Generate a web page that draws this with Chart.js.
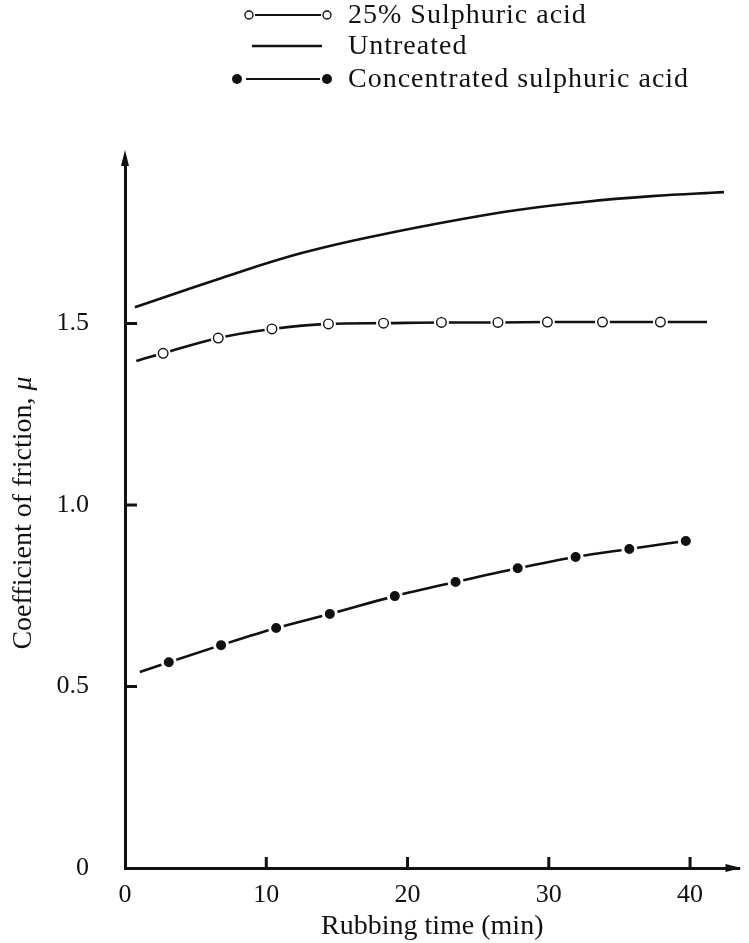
<!DOCTYPE html>
<html>
<head>
<meta charset="utf-8">
<script src="https://cdn.jsdelivr.net/npm/chart.js@4.4.1/dist/chart.umd.min.js"></script>
<style>
  html, body { margin: 0; background: #fff; }
  #wrap { width: 749px; height: 943px; }
</style>
</head>
<body>
<div id="wrap"><canvas id="frictionChart" width="749" height="943"></canvas></div>
<script>
// values (time in min, coefficient of friction)
const untreatedTime = [0.7, 6.8, 12.5, 18.3, 26.8, 32.5, 37.3, 42.4];
const untreatedMu = [1.545, 1.625, 1.694, 1.746, 1.807, 1.835, 1.851, 1.862];

const acid25Time = [0.8, 2.7, 6.6, 10.4, 14.4, 18.3, 22.4, 26.4, 29.9, 33.8, 37.9, 41.2];
const acid25Mu = [1.397, 1.418, 1.46, 1.485, 1.499, 1.501, 1.503, 1.503, 1.504, 1.504, 1.504, 1.504];

const concTime = [1.05, 3.1, 6.8, 10.7, 14.5, 19.1, 23.4, 27.8, 31.9, 35.7, 39.7];
const concMu = [0.54, 0.567, 0.614, 0.661, 0.70, 0.749, 0.788, 0.826, 0.857, 0.879, 0.901];

const xTicks = [0, 10, 20, 30, 40];
const yTicks = [0, 0.5, 1.0, 1.5];
const legendLabels = ['25% Sulphuric acid', 'Untreated', 'Concentrated sulphuric acid'];
const yTitle = 'Coefficient of friction, ';
const yTitleSymbol = 'μ';

const FONT = 'Liberation Serif';
const INK = '#111';

function toPoints(xs, ys) {
    return xs.map((x, i) => ({ x: x, y: ys[i] }));
}

// inward tick marks, arrow heads and the y title (with italic mu)
const axisDecor = {
    id: 'axisDecor',
    afterDraw(chart) {
        const ctx = chart.ctx;
        const xs = chart.scales.x, ys = chart.scales.y;
        ctx.save();
        ctx.strokeStyle = INK;
        ctx.fillStyle = INK;
        ctx.lineWidth = 3;
        yTicks.forEach(v => {
            if (v === 0) return;
            const py = ys.getPixelForValue(v);
            ctx.beginPath();
            ctx.moveTo(xs.left, py);
            ctx.lineTo(xs.left + 12, py);
            ctx.stroke();
        });
        xTicks.forEach(v => {
            if (v === 0) return;
            const px = xs.getPixelForValue(v);
            ctx.beginPath();
            ctx.moveTo(px, ys.bottom);
            ctx.lineTo(px, ys.bottom - 11);
            ctx.stroke();
        });
        // arrow up
        ctx.beginPath();
        ctx.moveTo(xs.left, ys.top - 8);
        ctx.lineTo(xs.left - 4, ys.top + 8);
        ctx.lineTo(xs.left + 4, ys.top + 8);
        ctx.closePath();
        ctx.fill();
        // arrow right
        ctx.beginPath();
        ctx.moveTo(xs.right + 2, ys.bottom);
        ctx.lineTo(xs.right - 14, ys.bottom - 4);
        ctx.lineTo(xs.right - 14, ys.bottom + 4);
        ctx.closePath();
        ctx.fill();

        // y title
        const regular = '28px "' + FONT + '"';
        const italic = 'italic 28px "' + FONT + '"';
        ctx.font = regular;
        const w1 = ctx.measureText(yTitle).width;
        ctx.font = italic;
        const w2 = ctx.measureText(yTitleSymbol).width;
        ctx.translate(24, (ys.top + ys.bottom) / 2);
        ctx.rotate(-Math.PI / 2);
        ctx.textBaseline = 'middle';
        ctx.textAlign = 'left';
        const start = -(w1 + w2) / 2;
        ctx.font = regular;
        ctx.fillText(yTitle, start, 0);
        ctx.font = italic;
        ctx.fillText(yTitleSymbol, start + w1, 0);
        ctx.restore();
    }
};

// legend drawn as in the figure: line sample with a marker at each end
const legendDecor = {
    id: 'legendDecor',
    afterDraw(chart) {
        const ctx = chart.ctx;
        const rows = [15, 46, 79];
        ctx.save();
        ctx.strokeStyle = INK;
        ctx.fillStyle = INK;
        ctx.font = '28px "' + FONT + '"';
        ctx.letterSpacing = '1px';
        ctx.textBaseline = 'middle';
        ctx.textAlign = 'left';

        // 25 %
        let y = rows[0];
        ctx.lineWidth = 2;
        ctx.beginPath(); ctx.moveTo(255, y); ctx.lineTo(321, y); ctx.stroke();
        [249, 327].forEach(cx => {
            ctx.beginPath(); ctx.arc(cx, y, 4, 0, Math.PI * 2);
            ctx.fillStyle = '#fff'; ctx.fill();
            ctx.lineWidth = 1.4; ctx.stroke();
        });
        ctx.fillStyle = INK;
        ctx.fillText(legendLabels[0], 348, y + 1);

        // untreated
        y = rows[1];
        ctx.lineWidth = 2.5;
        ctx.beginPath(); ctx.moveTo(252, y); ctx.lineTo(322, y); ctx.stroke();
        ctx.fillText(legendLabels[1], 348, y + 1);

        // concentrated
        y = rows[2];
        ctx.lineWidth = 2;
        ctx.beginPath(); ctx.moveTo(246, y); ctx.lineTo(320, y); ctx.stroke();
        [237, 327].forEach(cx => {
            ctx.beginPath(); ctx.arc(cx, y, 5, 0, Math.PI * 2); ctx.fill();
        });
        ctx.fillText(legendLabels[2], 348, y + 1);
        ctx.restore();
    }
};

const lineBase = {
    showLine: true,
    borderColor: INK,
    borderWidth: 2.6,
    fill: false
};

new Chart(document.getElementById('frictionChart'), {
    type: 'scatter',
    data: {
        datasets: [
            Object.assign({}, lineBase, {
                label: legendLabels[1],
                data: toPoints(untreatedTime, untreatedMu),
                tension: 0.4,
                pointRadius: 0,
                order: 5
            }),
            Object.assign({}, lineBase, {
                label: legendLabels[0],
                data: toPoints(acid25Time, acid25Mu),
                cubicInterpolationMode: 'monotone',
                pointRadius: 0,
                order: 4
            }),
            {
                // white gap round the open circles
                label: 'gap',
                data: toPoints(acid25Time.slice(1, -1), acid25Mu.slice(1, -1)),
                showLine: false,
                pointRadius: 7.5,
                pointBackgroundColor: '#fff',
                pointBorderWidth: 0,
                order: 2
            },
            {
                label: 'markers',
                data: toPoints(acid25Time.slice(1, -1), acid25Mu.slice(1, -1)),
                showLine: false,
                pointRadius: 4.8,
                pointBackgroundColor: '#fff',
                pointBorderColor: INK,
                pointBorderWidth: 1.4,
                order: 1
            },
            Object.assign({}, lineBase, {
                label: legendLabels[2],
                data: toPoints(concTime, concMu),
                cubicInterpolationMode: 'monotone',
                pointRadius: ctx => ctx.dataIndex === 0 ? 0 : 6.5,
                pointBackgroundColor: INK,
                pointBorderColor: '#fff',
                pointBorderWidth: 3,
                order: 3
            })
        ]
    },
    options: {
        responsive: false,
        animation: false,
        events: [],
        layout: { padding: { top: 158, right: 2, left: 0, bottom: 0 } },
        plugins: {
            legend: { display: false },
            tooltip: { enabled: false }
        },
        scales: {
            x: {
                type: 'linear',
                min: 0,
                max: 43.5,
                afterBuildTicks: s => { s.ticks = xTicks.map(v => ({ value: v })); },
                afterFit: s => { s.height = 75; },
                grid: { display: false, drawTicks: false },
                border: { display: true, color: INK, width: 3 },
                ticks: { color: INK, padding: 12, font: { family: FONT, size: 26 } },
                title: {
                    display: true,
                    text: 'Rubbing time (min)',
                    color: INK,
                    font: { family: FONT, size: 28 },
                    padding: { top: 0, bottom: 0 }
                }
            },
            y: {
                type: 'linear',
                min: 0,
                max: 1.956,
                afterBuildTicks: s => { s.ticks = yTicks.map(v => ({ value: v })); },
                afterFit: s => { s.width = 125; },
                grid: { display: false, drawTicks: false },
                border: { display: true, color: INK, width: 3 },
                ticks: {
                    color: INK,
                    padding: 36,
                    font: { family: FONT, size: 26 },
                    callback: v => v === 0 ? '0' : v.toFixed(1)
                },
                title: { display: false }
            }
        }
    },
    plugins: [axisDecor, legendDecor]
});
</script>
</body>
</html>
